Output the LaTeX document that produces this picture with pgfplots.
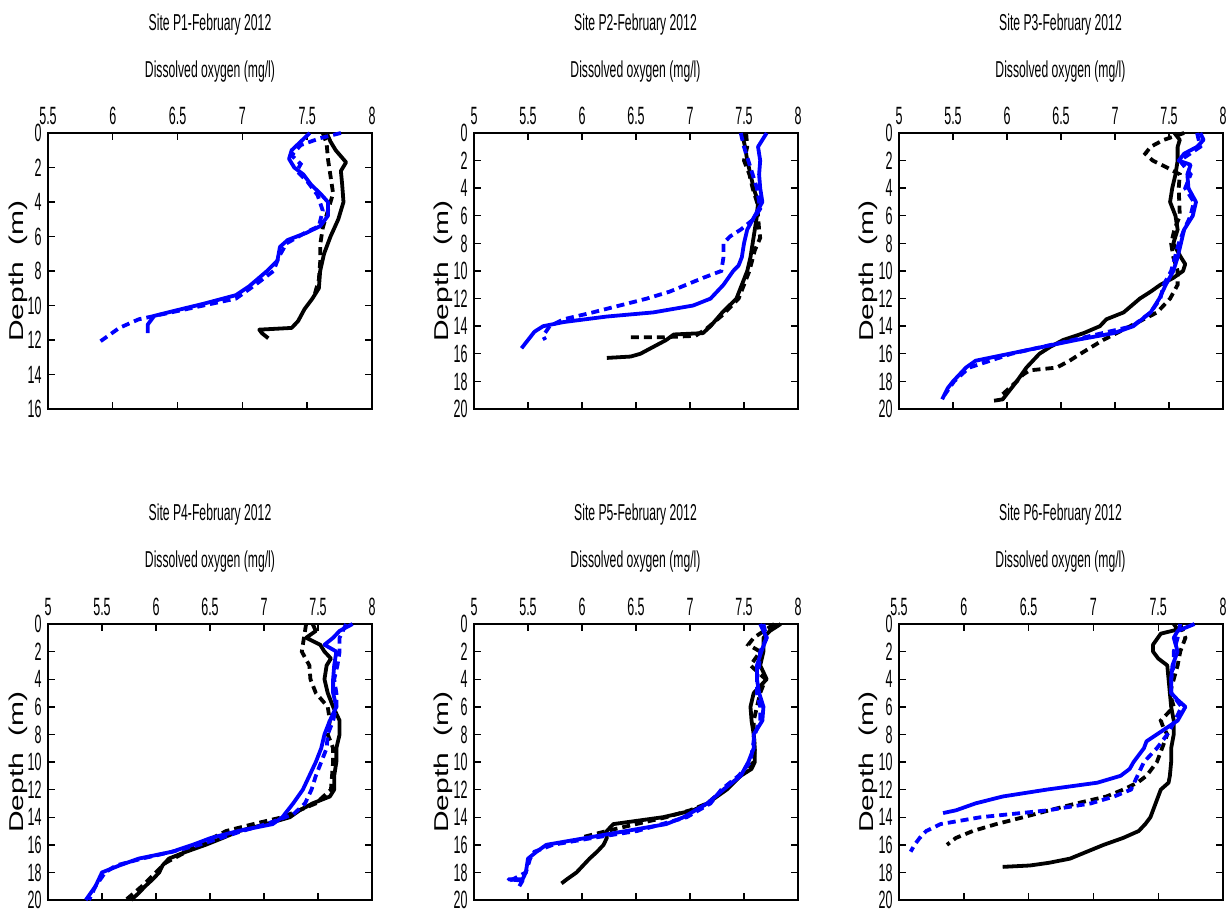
\documentclass[border=0pt]{standalone}
\usepackage{fontspec}
\setmainfont{Liberation Sans}
\newfontfamily\condfont[FakeStretch=0.53]{Liberation Sans}
\newfontfamily\tickfont[FakeStretch=0.5]{Liberation Sans}
\newfontfamily\widefont[FakeStretch=1.5]{Liberation Sans}
\usepackage{pgfplots}
\pgfplotsset{compat=1.18}
\definecolor{mblue}{RGB}{0,0,255}

\pgfplotsset{
  panel/.style={
    width=162pt, height=138pt, scale only axis,
    y dir=reverse, ymin=0, ymax=20, ytick={0,2,...,20},
    xmin=5, xmax=8, xtick={5,5.5,6,6.5,7,7.5,8},
    xticklabel pos=upper, tick pos=both, tick align=inside,
    major tick length=3.5pt, axis line style={line width=0.9pt},
    every tick/.style={line width=0.7pt, black},
    tick label style={font=\tickfont\fontsize{12.5}{13}\selectfont},
    xticklabel style={inner sep=1pt, yshift=3pt},
    yticklabel style={inner sep=1pt, xshift=-2pt},
    /pgf/number format/assume math mode=true,
    clip=false
  },
  bs/.style={black, line width=1.9pt, line join=round},
  bd/.style={black, line width=1.9pt, dash pattern=on 4pt off 2.5pt},
  ls/.style={mblue, line width=1.9pt, line join=round},
  ld/.style={mblue, line width=1.9pt, dash pattern=on 4pt off 2.5pt}
}
\newcommand{\paneltext}[4]{%
  \node[font=\condfont\fontsize{11.5}{12}\selectfont] at (#1,#2) {Site #4-February 2012};
  \node[font=\condfont\fontsize{11.5}{12}\selectfont] at (#1,#3) {Dissolved oxygen (mg/l)};}

\begin{document}
\begin{tikzpicture}
\useasboundingbox (0,0) rectangle (614pt,-454.5pt);

% ---------- P1
\begin{axis}[panel, at={(24pt,-66.5pt)}, anchor=north west,
  xmin=5.5, xtick={5.5,6,6.5,7,7.5,8}, ymax=16, ytick={0,2,...,16}]
\addplot[bs] coordinates {(7.65,0) (7.68,0.5) (7.72,1) (7.8,1.7) (7.76,2.2) (7.77,3) (7.78,4) (7.74,5) (7.68,6) (7.63,7) (7.6,8) (7.59,9) (7.54,9.6) (7.48,10.2) (7.43,10.9) (7.38,11.3) (7.13,11.4) (7.15,11.6) (7.2,11.9)};
\addplot[bd] coordinates {(7.62,0) (7.65,0.6) (7.66,1.5) (7.68,2.5) (7.7,3.5) (7.66,4.5) (7.62,5.5) (7.6,6.5) (7.6,7.5) (7.59,8.5) (7.56,9.3)};
\addplot[ld] coordinates {(7.76,0) (7.6,0.3) (7.45,0.7) (7.38,1.3) (7.45,1.8) (7.42,2.2) (7.5,2.8) (7.58,3.6) (7.62,4.5) (7.59,5.4) (7.48,5.8) (7.34,6.4) (7.28,7.2) (7.24,8.0) (7.1,8.8) (6.95,9.6) (6.7,10.0) (6.45,10.4) (6.2,10.8) (6.05,11.3) (5.9,12.1)};
\addplot[ls] coordinates {(7.52,0) (7.45,0.5) (7.38,1.0) (7.36,1.5) (7.4,2.0) (7.47,2.4) (7.53,3.0) (7.6,3.5) (7.66,4.0) (7.66,4.8) (7.6,5.4) (7.49,5.8) (7.35,6.2) (7.29,6.6) (7.27,7.4) (7.19,8.0) (7.05,8.9) (6.95,9.4) (6.7,9.9) (6.48,10.3) (6.32,10.6) (6.27,11.1) (6.27,11.6)};
\end{axis}

% ---------- P2
\begin{axis}[panel, at={(237pt,-66.5pt)}, anchor=north west]
\addplot[bs] coordinates {(7.48,0) (7.51,1) (7.53,2) (7.56,3) (7.59,4) (7.63,5) (7.62,6) (7.6,7) (7.58,8) (7.56,9) (7.53,10) (7.48,11) (7.43,12) (7.3,13) (7.19,14) (7.12,14.5) (6.85,14.6) (6.78,15) (6.66,15.5) (6.54,16) (6.45,16.2) (6.23,16.3)};
\addplot[bd] coordinates {(7.52,0) (7.53,1) (7.5,2) (7.55,3) (7.58,4) (7.62,5) (7.63,6) (7.64,7) (7.65,7.6) (7.6,8.5) (7.55,10) (7.45,12) (7.3,13.2) (7.15,14.2) (7.05,14.7) (6.75,14.8) (6.43,14.8)};
\addplot[ld] coordinates {(7.47,0) (7.5,1) (7.54,2) (7.58,3) (7.62,4) (7.65,5.5) (7.58,6.3) (7.47,7) (7.37,7.5) (7.31,8) (7.31,9) (7.29,10) (7.12,10.5) (6.81,11.5) (6.6,12) (6.35,12.5) (6.1,13) (5.83,13.5) (5.7,14) (5.64,14.7) (5.66,15)};
\addplot[ls] coordinates {(7.71,0) (7.63,1) (7.65,2) (7.64,3) (7.65,4) (7.67,5) (7.6,6) (7.53,7) (7.5,8) (7.48,9) (7.45,9.6) (7.4,10) (7.31,11) (7.19,12) (7.03,12.5) (6.66,13) (6.23,13.3) (5.83,13.7) (5.64,14) (5.56,14.4) (5.5,15) (5.44,15.6)};
\end{axis}

% ---------- P3
\begin{axis}[panel, at={(449.5pt,-66.5pt)}, anchor=north west]
\addplot[bs] coordinates {(7.55,0) (7.6,0.5) (7.58,1) (7.58,2) (7.56,3) (7.53,4) (7.51,5) (7.56,6) (7.58,7) (7.54,8) (7.61,9) (7.65,9.5) (7.63,10) (7.54,10.5) (7.42,11) (7.33,11.5) (7.23,12) (7.08,13) (6.92,13.5) (6.86,14) (6.71,14.5) (6.52,15) (6.4,15.5) (6.3,16) (6.18,17) (6.09,18) (6.04,18.5) (5.99,19) (5.96,19.3) (5.88,19.4)};
\addplot[bd] coordinates {(7.64,0) (7.45,0.5) (7.33,1) (7.28,1.5) (7.35,2) (7.48,2.5) (7.6,3) (7.59,4) (7.6,6) (7.55,7) (7.52,8) (7.54,9) (7.58,10) (7.58,11) (7.51,12) (7.39,13) (7.14,14) (6.89,15) (6.68,16) (6.58,16.5) (6.46,17) (6.21,17.2) (6.15,17.5) (6.09,18) (6.02,18.5) (5.95,19)};
\addplot[ld] coordinates {(7.76,0) (7.79,1) (7.6,2) (7.7,3) (7.65,4) (7.73,5) (7.7,6) (7.64,7) (7.59,8) (7.52,10) (7.45,11) (7.42,12) (7.33,13) (7.16,14) (6.61,15) (6.04,16) (5.65,17) (5.51,18) (5.42,19)};
\addplot[ls] coordinates {(7.79,0) (7.82,0.5) (7.76,1) (7.64,1.5) (7.59,2) (7.7,2.3) (7.67,3) (7.68,4) (7.75,5) (7.72,6) (7.64,7) (7.61,8) (7.58,9) (7.54,10) (7.47,11) (7.41,12) (7.33,13) (7.17,14) (6.99,14.5) (6.64,15) (6.33,15.5) (6.02,16) (5.71,16.5) (5.62,17) (5.5,18) (5.45,18.5) (5.4,19.3)};
\end{axis}

% ---------- P4
\begin{axis}[panel, at={(24pt,-312pt)}, anchor=north west]
\addplot[bs] coordinates {(7.45,0) (7.48,0.5) (7.39,1) (7.52,1.5) (7.56,2) (7.62,2.5) (7.58,3) (7.56,4) (7.59,5) (7.64,6) (7.7,7) (7.7,8) (7.67,9) (7.67,10) (7.65,11) (7.65,12) (7.61,12.5) (7.45,13) (7.33,13.5) (7.24,14) (7.02,14.5) (6.77,15) (6.62,15.5) (6.46,16) (6.28,16.5) (6.12,17) (6.06,17.5) (6.03,18) (5.97,18.5) (5.9,19) (5.84,19.5) (5.77,20)};
\addplot[bd] coordinates {(7.39,0) (7.37,1) (7.35,2) (7.42,3) (7.43,4) (7.48,5) (7.59,6) (7.61,7) (7.59,8) (7.64,9) (7.64,10) (7.62,12) (7.48,13) (7.17,14) (6.9,14.5) (6.65,15) (6.4,16) (6.21,16.8) (6.09,17.3) (6.0,18) (5.87,19) (5.72,20)};
\addplot[ld] coordinates {(7.76,0) (7.7,1) (7.7,2) (7.68,3) (7.65,4) (7.67,5) (7.67,6) (7.64,7) (7.59,8) (7.58,9) (7.53,10) (7.48,11) (7.44,12) (7.38,13) (7.27,13.8) (7.02,14.5) (6.8,15) (6.4,16) (6.15,16.5) (5.87,17) (5.63,17.5) (5.53,18) (5.44,19) (5.38,20)};
\addplot[ls] coordinates {(7.82,0) (7.7,0.5) (7.64,1) (7.56,1.5) (7.67,2) (7.65,3) (7.64,4) (7.64,5) (7.67,6) (7.61,7) (7.56,8) (7.53,9) (7.48,10) (7.42,11) (7.36,12) (7.27,13) (7.17,14) (7.08,14.5) (6.76,15) (6.51,15.5) (6.34,16) (6.15,16.5) (5.84,17) (5.66,17.5) (5.5,18) (5.44,19) (5.35,20)};
\end{axis}

% ---------- P5
\begin{axis}[panel, at={(237pt,-312pt)}, anchor=north west]
\addplot[bs] coordinates {(7.84,0) (7.74,0.5) (7.68,1) (7.68,2) (7.65,3) (7.71,4) (7.59,5) (7.56,6) (7.57,7) (7.59,8) (7.6,9) (7.6,10) (7.57,10.5) (7.47,11) (7.34,12) (7.16,13) (7.03,13.5) (6.75,14) (6.29,14.5) (6.23,15) (6.23,15.5) (6.2,16) (6.14,16.5) (6.07,17) (5.95,18) (5.86,18.5) (5.81,18.8)};
\addplot[bd] coordinates {(7.78,0) (7.59,1) (7.54,1.5) (7.65,2) (7.56,3) (7.7,4) (7.65,5) (7.62,6) (7.59,7) (7.59,8) (7.6,9) (7.59,10) (7.47,11) (7.31,12) (7.16,13) (7.0,13.5) (6.78,14) (6.5,14.5) (6.23,15) (5.98,15.5)};
\addplot[ld] coordinates {(7.68,0) (7.71,1) (7.65,2) (7.64,3) (7.62,4) (7.62,5) (7.65,6) (7.65,7) (7.6,8) (7.56,10) (7.45,11) (7.29,12) (7.19,13) (6.97,14) (6.51,15) (6.1,15.5) (5.73,16) (5.56,16.5) (5.52,17) (5.48,18) (5.36,18.5) (5.32,18.6)};
\addplot[ls] coordinates {(7.65,0) (7.68,0.5) (7.71,1) (7.66,2) (7.62,3) (7.62,4) (7.64,5) (7.68,6) (7.67,7) (7.59,8) (7.59,9) (7.54,10) (7.47,11) (7.31,12) (7.16,13) (6.94,14) (6.78,14.5) (6.41,15) (6.04,15.5) (5.67,16) (5.58,16.5) (5.5,17) (5.48,18) (5.45,18.5) (5.32,18.5) (5.45,18.6) (5.42,19)};
\end{axis}

% ---------- P6
\begin{axis}[panel, at={(449.5pt,-312pt)}, anchor=north west,
  xmin=5.5, xtick={5.5,6,6.5,7,7.5,8}]
\addplot[bs] coordinates {(7.62,0) (7.65,0.4) (7.52,0.7) (7.46,1.5) (7.46,2) (7.5,2.5) (7.57,3) (7.58,4) (7.59,5) (7.6,6) (7.62,7) (7.62,8) (7.6,9) (7.6,10) (7.59,11) (7.58,11.5) (7.52,12) (7.48,13) (7.44,14) (7.4,14.5) (7.35,15) (7.23,15.5) (7.08,16) (6.95,16.5) (6.82,17) (6.66,17.3) (6.51,17.5) (6.3,17.6)};
\addplot[bd] coordinates {(7.67,0) (7.71,1) (7.67,2) (7.65,3) (7.62,4) (7.59,5) (7.62,6) (7.57,6.5) (7.52,7) (7.54,7.5) (7.57,8) (7.53,9) (7.49,10) (7.41,11) (7.34,11.5) (7.23,12) (7.1,12.5) (6.87,13) (6.66,13.5) (6.46,14) (6.25,14.5) (6.07,15) (5.94,15.5) (5.87,16)};
\addplot[ld] coordinates {(7.67,0) (7.65,1) (7.62,2) (7.62,3) (7.6,4) (7.6,5) (7.68,6) (7.63,7) (7.57,8) (7.49,9) (7.44,9.5) (7.39,10) (7.34,11) (7.29,12) (7.16,12.5) (6.98,13) (6.65,13.5) (6.13,14) (5.82,14.5) (5.71,15) (5.66,15.5) (5.62,16) (5.59,16.5)};
\addplot[ls] coordinates {(7.78,0) (7.65,0.5) (7.62,1) (7.65,2) (7.61,3) (7.6,4) (7.6,5) (7.65,5.5) (7.71,6) (7.65,7) (7.57,7.5) (7.49,8) (7.41,8.5) (7.39,9) (7.35,9.5) (7.31,10) (7.28,10.5) (7.21,11) (7.03,11.5) (6.64,12) (6.3,12.5) (6.09,13) (5.94,13.5) (5.84,13.7)};
\end{axis}

% ---------- titles and labels
\paneltext{105pt}{-12.5pt}{-36pt}{P1}
\paneltext{317.75pt}{-12.5pt}{-36pt}{P2}
\paneltext{530.25pt}{-12.5pt}{-36pt}{P3}
\paneltext{105pt}{-257.5pt}{-281pt}{P4}
\paneltext{317.75pt}{-257.5pt}{-281pt}{P5}
\paneltext{530.25pt}{-257.5pt}{-281pt}{P6}
\foreach \xx in {9pt,221.5pt,434pt}{
  \foreach \yy in {-135.5pt,-381pt}{
    \node[rotate=90, font=\widefont\fontsize{10}{10}\selectfont] at (\xx,\yy) {Depth\ \ (m)};
  }
}
\end{tikzpicture}
\end{document}
